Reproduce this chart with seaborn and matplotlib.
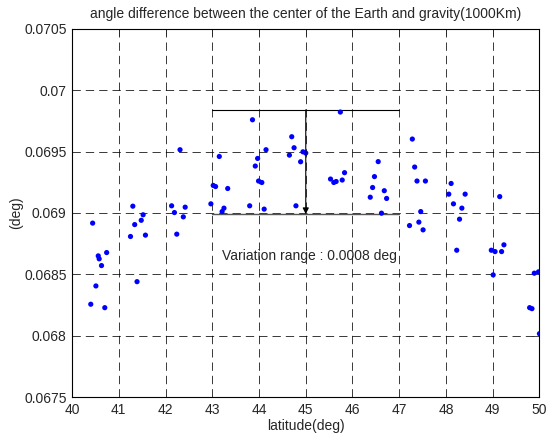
"""Angle difference between the Earth's center and gravity direction vs latitude"""

import matplotlib

matplotlib.use("Agg")
import matplotlib.pyplot as plt
import pandas as pd
import seaborn as sns

# latitude (deg) and angle difference (deg)
latitude = [
    40.40, 40.44, 40.51, 40.56, 40.58, 40.63, 40.70, 40.74,
    41.25, 41.30, 41.34, 41.39, 41.48, 41.52, 41.57,
    42.13, 42.19, 42.24, 42.31, 42.38, 42.42,
    42.97, 43.02, 43.07, 43.15, 43.21, 43.25, 43.33,
    43.80, 43.86, 43.92, 43.97, 43.99, 44.06, 44.11, 44.15,
    44.65, 44.70, 44.75, 44.79, 44.89, 44.94, 45.00,
    45.53, 45.60, 45.65, 45.74, 45.78, 45.83,
    46.38, 46.43, 46.47, 46.55, 46.62, 46.68, 46.73,
    47.22, 47.28, 47.33, 47.38, 47.42, 47.46, 47.51, 47.56,
    48.06, 48.11, 48.16, 48.23, 48.29, 48.34, 48.41,
    48.97, 49.01, 49.05, 49.15, 49.19, 49.24,
    49.79, 49.84, 49.89, 49.98, 50.00,
]
angle_diff = [
    0.068256, 0.068917, 0.068405, 0.068650, 0.068626, 0.068571, 0.068228, 0.068677,
    0.068808, 0.069055, 0.068905, 0.068440, 0.068940, 0.068985, 0.068819,
    0.069058, 0.069003, 0.068827, 0.069515, 0.068968, 0.069047,
    0.069074, 0.069224, 0.069215, 0.069460, 0.069011, 0.069039, 0.069199,
    0.069058, 0.069759, 0.069382, 0.069444, 0.069260, 0.069248, 0.069031, 0.069515,
    0.069471, 0.069621, 0.069531, 0.069058, 0.069417, 0.069498, 0.069488,
    0.069276, 0.069248, 0.069256, 0.069822, 0.069268, 0.069328,
    0.069128, 0.069207, 0.069296, 0.069418, 0.068998, 0.069181, 0.069118,
    0.068897, 0.069602, 0.069374, 0.069260, 0.068925, 0.069011, 0.068862, 0.069260,
    0.069153, 0.069240, 0.069074, 0.068696, 0.068949, 0.069039, 0.069153,
    0.068696, 0.068495, 0.068685, 0.069133, 0.068685, 0.068740,
    0.068228, 0.068220, 0.068509, 0.068520, 0.068016,
]

# variation range annotation
range_lat = [43.0, 47.0]
range_top = 0.06984
range_bottom = 0.06899
arrow_lat = 45.0

x_ticks = [40, 41, 42, 43, 44, 45, 46, 47, 48, 49, 50]
y_ticks = [0.0675, 0.068, 0.0685, 0.069, 0.0695, 0.07, 0.0705]
y_tick_labels = ["0.0675", "0.068", "0.0685", "0.069", "0.0695", "0.07", "0.0705"]

df = pd.DataFrame({"latitude": latitude, "angle": angle_diff})

sns.set_style("white")
plt.rcParams["font.family"] = ["Liberation Sans", "DejaVu Sans"]
plt.rcParams["font.size"] = 10

fig = plt.figure(figsize=(5.46, 4.37), dpi=100)
ax = fig.add_axes([0.132, 0.0915, 0.856, 0.8425])

sns.scatterplot(
    data=df, x="latitude", y="angle", color="#0000ff", s=14,
    edgecolor="none", ax=ax, zorder=3,
)

# variation range lines and arrow
ax.plot(range_lat, [range_top, range_top], color="black", lw=0.8, zorder=2)
ax.plot(range_lat, [range_bottom, range_bottom], color="#555555", lw=1.0, zorder=2)
ax.annotate(
    "", xy=(arrow_lat, range_bottom), xytext=(arrow_lat, range_top),
    arrowprops=dict(arrowstyle="-|>", color="black", lw=0.8, mutation_scale=9,
                    shrinkA=0, shrinkB=0),
    zorder=4,
)
ax.text(43.2, 0.06865, "Variation range : 0.0008 deg", fontsize=10,
        va="center", ha="left", zorder=5)

ax.set_xlim(40, 50)
ax.set_ylim(0.0675, 0.0705)
ax.set_xticks(x_ticks)
ax.set_yticks(y_ticks)
ax.set_yticklabels(y_tick_labels)
ax.grid(True, color="black", linestyle=(0, (10, 6)), lw=0.6, alpha=0.9)
ax.tick_params(direction="in", length=5, top=True, right=True, labelsize=10,
               width=0.6, pad=4)
for spine in ax.spines.values():
    spine.set_linewidth(0.8)
    spine.set_color("black")

ax.set_xlabel("latitude(deg)", fontsize=10, labelpad=2)
ax.set_ylabel("(deg)", fontsize=10, labelpad=1)
ax.set_title("angle difference between the center of the Earth and gravity(1000Km)",
             fontsize=10, pad=8)

fig.savefig("out.png", dpi=100)
plt.close(fig)
